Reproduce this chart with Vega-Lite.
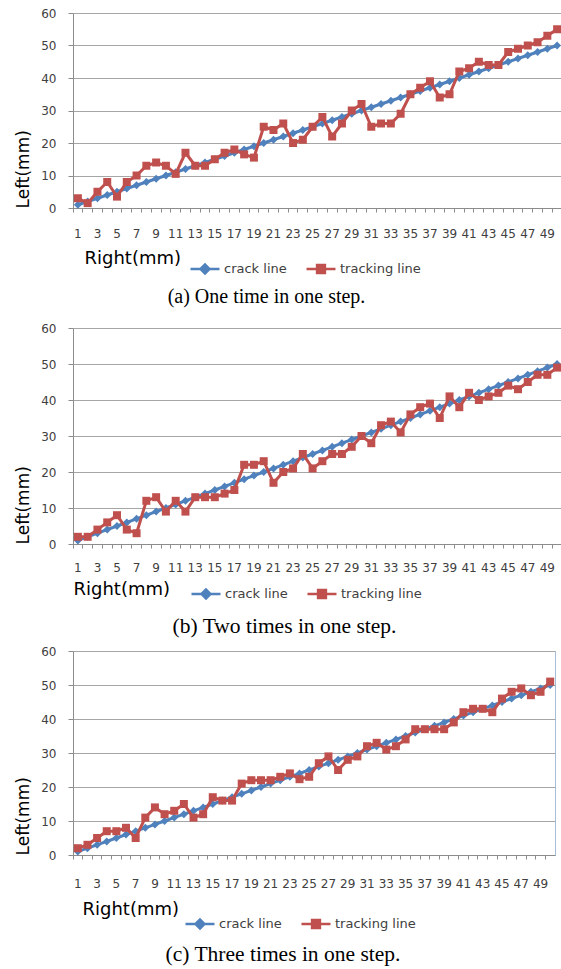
{
  "$schema": "https://vega.github.io/schema/vega-lite/v6.json",
  "background": "white",
  "padding": {"left": 14, "top": 7, "right": 0, "bottom": 3},
  "config": {
    "view": {"stroke": null},
    "font": "DejaVu Sans",
    "axis": {"labelFont": "DejaVu Sans", "titleFont": "DejaVu Sans", "domainColor": "#8C8C8C", "tickColor": "#8C8C8C", "labelColor": "#404040", "titleColor": "#000000", "titleFontWeight": "normal"},
    "title": {"font": "Liberation Serif", "fontWeight": "normal", "color": "#000000"}
  },
  "datasets": {
    "a": [
      {"x":1,"crack line":1,"tracking line":3},{"x":2,"crack line":2,"tracking line":1.5},{"x":3,"crack line":3,"tracking line":5},{"x":4,"crack line":4,"tracking line":8},{"x":5,"crack line":5,"tracking line":3.5},
      {"x":6,"crack line":6,"tracking line":8},{"x":7,"crack line":7,"tracking line":10},{"x":8,"crack line":8,"tracking line":13},{"x":9,"crack line":9,"tracking line":14},{"x":10,"crack line":10,"tracking line":13},
      {"x":11,"crack line":11,"tracking line":10.5},{"x":12,"crack line":12,"tracking line":17},{"x":13,"crack line":13,"tracking line":13},{"x":14,"crack line":14,"tracking line":13},{"x":15,"crack line":15,"tracking line":15},
      {"x":16,"crack line":16,"tracking line":17},{"x":17,"crack line":17,"tracking line":18},{"x":18,"crack line":18,"tracking line":16.5},{"x":19,"crack line":19,"tracking line":15.5},{"x":20,"crack line":20,"tracking line":25},
      {"x":21,"crack line":21,"tracking line":24},{"x":22,"crack line":22,"tracking line":26},{"x":23,"crack line":23,"tracking line":20},{"x":24,"crack line":24,"tracking line":21},{"x":25,"crack line":25,"tracking line":25},
      {"x":26,"crack line":26,"tracking line":28},{"x":27,"crack line":27,"tracking line":22},{"x":28,"crack line":28,"tracking line":26},{"x":29,"crack line":29,"tracking line":30},{"x":30,"crack line":30,"tracking line":32},
      {"x":31,"crack line":31,"tracking line":25},{"x":32,"crack line":32,"tracking line":26},{"x":33,"crack line":33,"tracking line":26},{"x":34,"crack line":34,"tracking line":29},{"x":35,"crack line":35,"tracking line":35},
      {"x":36,"crack line":36,"tracking line":37},{"x":37,"crack line":37,"tracking line":39},{"x":38,"crack line":38,"tracking line":34},{"x":39,"crack line":39,"tracking line":35},{"x":40,"crack line":40,"tracking line":42},
      {"x":41,"crack line":41,"tracking line":43},{"x":42,"crack line":42,"tracking line":45},{"x":43,"crack line":43,"tracking line":44},{"x":44,"crack line":44,"tracking line":44},{"x":45,"crack line":45,"tracking line":48},
      {"x":46,"crack line":46,"tracking line":49},{"x":47,"crack line":47,"tracking line":50},{"x":48,"crack line":48,"tracking line":51},{"x":49,"crack line":49,"tracking line":53},{"x":50,"crack line":50,"tracking line":55}
    ],
    "b": [
      {"x":1,"crack line":1,"tracking line":2},{"x":2,"crack line":2,"tracking line":2},{"x":3,"crack line":3,"tracking line":4},{"x":4,"crack line":4,"tracking line":6},{"x":5,"crack line":5,"tracking line":8},
      {"x":6,"crack line":6,"tracking line":4},{"x":7,"crack line":7,"tracking line":3},{"x":8,"crack line":8,"tracking line":12},{"x":9,"crack line":9,"tracking line":13},{"x":10,"crack line":10,"tracking line":9},
      {"x":11,"crack line":11,"tracking line":12},{"x":12,"crack line":12,"tracking line":9},{"x":13,"crack line":13,"tracking line":13},{"x":14,"crack line":14,"tracking line":13},{"x":15,"crack line":15,"tracking line":13},
      {"x":16,"crack line":16,"tracking line":14},{"x":17,"crack line":17,"tracking line":15},{"x":18,"crack line":18,"tracking line":22},{"x":19,"crack line":19,"tracking line":22},{"x":20,"crack line":20,"tracking line":23},
      {"x":21,"crack line":21,"tracking line":17},{"x":22,"crack line":22,"tracking line":20},{"x":23,"crack line":23,"tracking line":21},{"x":24,"crack line":24,"tracking line":25},{"x":25,"crack line":25,"tracking line":21},
      {"x":26,"crack line":26,"tracking line":23},{"x":27,"crack line":27,"tracking line":25},{"x":28,"crack line":28,"tracking line":25},{"x":29,"crack line":29,"tracking line":27},{"x":30,"crack line":30,"tracking line":30},
      {"x":31,"crack line":31,"tracking line":28},{"x":32,"crack line":32,"tracking line":33},{"x":33,"crack line":33,"tracking line":34},{"x":34,"crack line":34,"tracking line":31},{"x":35,"crack line":35,"tracking line":36},
      {"x":36,"crack line":36,"tracking line":38},{"x":37,"crack line":37,"tracking line":39},{"x":38,"crack line":38,"tracking line":35},{"x":39,"crack line":39,"tracking line":41},{"x":40,"crack line":40,"tracking line":38},
      {"x":41,"crack line":41,"tracking line":42},{"x":42,"crack line":42,"tracking line":40},{"x":43,"crack line":43,"tracking line":41},{"x":44,"crack line":44,"tracking line":42},{"x":45,"crack line":45,"tracking line":44},
      {"x":46,"crack line":46,"tracking line":43},{"x":47,"crack line":47,"tracking line":45},{"x":48,"crack line":48,"tracking line":47},{"x":49,"crack line":49,"tracking line":47},{"x":50,"crack line":50,"tracking line":49}
    ],
    "c": [
      {"x":1,"crack line":1,"tracking line":2},{"x":2,"crack line":2,"tracking line":3},{"x":3,"crack line":3,"tracking line":5},{"x":4,"crack line":4,"tracking line":7},{"x":5,"crack line":5,"tracking line":7},
      {"x":6,"crack line":6,"tracking line":8},{"x":7,"crack line":7,"tracking line":5},{"x":8,"crack line":8,"tracking line":11},{"x":9,"crack line":9,"tracking line":14},{"x":10,"crack line":10,"tracking line":12},
      {"x":11,"crack line":11,"tracking line":13},{"x":12,"crack line":12,"tracking line":15},{"x":13,"crack line":13,"tracking line":11},{"x":14,"crack line":14,"tracking line":12},{"x":15,"crack line":15,"tracking line":17},
      {"x":16,"crack line":16,"tracking line":16},{"x":17,"crack line":17,"tracking line":16},{"x":18,"crack line":18,"tracking line":21},{"x":19,"crack line":19,"tracking line":22},{"x":20,"crack line":20,"tracking line":22},
      {"x":21,"crack line":21,"tracking line":22},{"x":22,"crack line":22,"tracking line":23},{"x":23,"crack line":23,"tracking line":24},{"x":24,"crack line":24,"tracking line":22.3},{"x":25,"crack line":25,"tracking line":23},
      {"x":26,"crack line":26,"tracking line":27},{"x":27,"crack line":27,"tracking line":29},{"x":28,"crack line":28,"tracking line":25},{"x":29,"crack line":29,"tracking line":28},{"x":30,"crack line":30,"tracking line":29},
      {"x":31,"crack line":31,"tracking line":32},{"x":32,"crack line":32,"tracking line":33},{"x":33,"crack line":33,"tracking line":31},{"x":34,"crack line":34,"tracking line":32},{"x":35,"crack line":35,"tracking line":34},
      {"x":36,"crack line":36,"tracking line":37},{"x":37,"crack line":37,"tracking line":37},{"x":38,"crack line":38,"tracking line":37},{"x":39,"crack line":39,"tracking line":37},{"x":40,"crack line":40,"tracking line":39},
      {"x":41,"crack line":41,"tracking line":42},{"x":42,"crack line":42,"tracking line":43},{"x":43,"crack line":43,"tracking line":43},{"x":44,"crack line":44,"tracking line":42},{"x":45,"crack line":45,"tracking line":46},
      {"x":46,"crack line":46,"tracking line":48},{"x":47,"crack line":47,"tracking line":49},{"x":48,"crack line":48,"tracking line":47},{"x":49,"crack line":49,"tracking line":48},{"x":50,"crack line":50,"tracking line":51}
    ]
  },
  "resolve": {"scale": {"x": "independent", "y": "independent", "color": "independent"}, "legend": {"color": "independent"}},
  "spacing": 15,
  "vconcat": [
    {
      "width": 489, "height": 195,
      "data": {"name": "a"},
      "transform": [{"fold": ["crack line", "tracking line"], "as": ["series", "value"]}],
      "title": {"text": "(a) One time in one step.", "orient": "bottom", "fontSize": 20, "anchor": "middle", "dx": -51, "offset": 8},
      "encoding": {
        "x": {"field": "x", "type": "ordinal", "bandPosition": 0.5, "scale": {"type": "band", "paddingInner": 0, "paddingOuter": 0},
          "axis": {"title": "Right(mm)", "titleFontSize": 18, "titleAnchor": "start", "titleAlign": "left", "titleX": 11, "titlePadding": 10,
            "labelFontSize": 12, "labelAngle": 0, "labelPadding": 16, "labelDx": 4.9, "labelOverlap": false, "labelExpr": "datum.value % 2 == 1 ? datum.label : ''",
            "bandPosition": 0, "tickSize": 4, "grid": false}},
        "y": {"field": "value", "type": "quantitative", "scale": {"domain": [0, 60], "nice": false},
          "axis": {"title": "Left(mm)", "titleFontSize": 17, "titleAnchor": "start", "titlePadding": 8, "values": [0,10,20,30,40,50,60],
            "labelFontSize": 12, "labelPadding": 12, "tickSize": 5, "grid": true, "gridColor": "#A6A6A6"}},
        "color": {"field": "series", "type": "nominal", "scale": {"domain": ["crack line", "tracking line"], "range": ["#4F81BD", "#C0504D"]},
          "legend": {"orient": "none", "legendX": 116, "legendY": 240, "direction": "horizontal", "gridAlign": "none", "title": null, "symbolSize": 841, "symbolStrokeWidth": 2.5,
            "labelFont": "DejaVu Sans", "labelFontSize": 13, "labelColor": "#404040", "labelOffset": 3, "columnPadding": 14, "padding": 0,
            "encode": {"symbols": {"update": {
              "shape": {"signal": "datum.value === 'crack line' ? 'M-1,0H1M-0.31,0L0,-0.31L0.31,0L0,0.31Z' : 'M-1,0H1M-0.27,-0.27H0.27V0.27H-0.27Z'"},
              "fill": {"signal": "datum.value === 'crack line' ? '#4F81BD' : '#C0504D'"},
              "stroke": {"signal": "datum.value === 'crack line' ? '#4F81BD' : '#C0504D'"},
              "opacity": {"value": 1}}}}}}
      },
      "layer": [
        {"transform": [{"filter": "datum.series === 'crack line'"}], "mark": {"type": "line", "strokeWidth": 3}},
        {"transform": [{"filter": "datum.series === 'crack line'"}], "mark": {"type": "point", "shape": "diamond", "filled": true, "opacity": 1, "size": 64}},
        {"transform": [{"filter": "datum.series === 'tracking line'"}], "mark": {"type": "line", "strokeWidth": 3}},
        {"transform": [{"filter": "datum.series === 'tracking line'"}], "mark": {"type": "point", "shape": "square", "filled": true, "opacity": 1, "size": 64}}
      ]
    },
    {
      "resolve": {"scale": {"x": "independent", "y": "independent", "color": "independent"}, "legend": {"color": "independent"}},
      "spacing": 6,
      "vconcat": [
        {
          "width": 489, "height": 216,
          "data": {"name": "b"},
          "transform": [{"fold": ["crack line", "tracking line"], "as": ["series", "value"]}],
          "title": {"text": "(b) Two times in one step.", "orient": "bottom", "fontSize": 21.5, "anchor": "middle", "dx": -33, "offset": 12},
          "encoding": {
            "x": {"field": "x", "type": "ordinal", "bandPosition": 0.5, "scale": {"type": "band", "paddingInner": 0, "paddingOuter": 0},
              "axis": {"title": "Right(mm)", "titleFontSize": 18, "titleAnchor": "start", "titleAlign": "left", "titleX": 0, "titlePadding": 7,
                "labelFontSize": 12, "labelAngle": 0, "labelPadding": 14, "labelDx": 4.9, "labelOverlap": false, "labelExpr": "datum.value % 2 == 1 ? datum.label : ''",
                "bandPosition": 0, "tickSize": 4, "grid": false}},
            "y": {"field": "value", "type": "quantitative", "scale": {"domain": [0, 60], "nice": false},
              "axis": {"title": "Left(mm)", "titleFontSize": 17, "titleAnchor": "start", "titlePadding": 8, "values": [0,10,20,30,40,50,60],
                "labelFontSize": 12, "labelPadding": 12, "tickSize": 5, "grid": true, "gridColor": "#A6A6A6"}},
            "color": {"field": "series", "type": "nominal", "scale": {"domain": ["crack line", "tracking line"], "range": ["#4F81BD", "#C0504D"]},
              "legend": {"orient": "none", "legendX": 117, "legendY": 250, "direction": "horizontal", "gridAlign": "none", "title": null, "symbolSize": 841, "symbolStrokeWidth": 2.5,
                "labelFont": "DejaVu Sans", "labelFontSize": 13, "labelColor": "#404040", "labelOffset": 3, "columnPadding": 14, "padding": 0,
                "encode": {"symbols": {"update": {
                  "shape": {"signal": "datum.value === 'crack line' ? 'M-1,0H1M-0.31,0L0,-0.31L0.31,0L0,0.31Z' : 'M-1,0H1M-0.27,-0.27H0.27V0.27H-0.27Z'"},
                  "fill": {"signal": "datum.value === 'crack line' ? '#4F81BD' : '#C0504D'"},
                  "stroke": {"signal": "datum.value === 'crack line' ? '#4F81BD' : '#C0504D'"},
                  "opacity": {"value": 1}}}}}}
          },
          "layer": [
            {"transform": [{"filter": "datum.series === 'crack line'"}], "mark": {"type": "line", "strokeWidth": 3}},
            {"transform": [{"filter": "datum.series === 'crack line'"}], "mark": {"type": "point", "shape": "diamond", "filled": true, "opacity": 1, "size": 64}},
            {"transform": [{"filter": "datum.series === 'tracking line'"}], "mark": {"type": "line", "strokeWidth": 3}},
            {"transform": [{"filter": "datum.series === 'tracking line'"}], "mark": {"type": "point", "shape": "square", "filled": true, "opacity": 1, "size": 64}}
          ]
        },
        {
          "width": 482, "height": 204,
          "view": {"stroke": "#A7BCD6", "strokeWidth": 1},
          "data": {"name": "c"},
          "transform": [{"fold": ["crack line", "tracking line"], "as": ["series", "value"]}],
          "title": {"text": "(c) Three times in one step.", "orient": "bottom", "fontSize": 21.5, "anchor": "middle", "dx": -31, "offset": 10},
          "encoding": {
            "x": {"field": "x", "type": "ordinal", "bandPosition": 0.5, "scale": {"type": "band", "paddingInner": 0, "paddingOuter": 0},
              "axis": {"title": "Right(mm)", "titleFontSize": 18, "titleAnchor": "start", "titleAlign": "left", "titleX": 9, "titlePadding": 11,
                "labelFontSize": 12, "labelAngle": 0, "labelPadding": 19, "labelDx": 4.8, "labelOverlap": false, "labelExpr": "datum.value % 2 == 1 ? datum.label : ''",
                "bandPosition": 0, "tickSize": 4, "grid": false}},
            "y": {"field": "value", "type": "quantitative", "scale": {"domain": [0, 60], "nice": false},
              "axis": {"title": "Left(mm)", "titleFontSize": 17, "titleAnchor": "start", "titlePadding": 8, "values": [0,10,20,30,40,50,60],
                "labelFontSize": 12, "labelPadding": 12, "tickSize": 5, "grid": true, "gridColor": "#A6A6A6"}},
            "color": {"field": "series", "type": "nominal", "scale": {"domain": ["crack line", "tracking line"], "range": ["#4F81BD", "#C0504D"]},
              "legend": {"orient": "none", "legendX": 111, "legendY": 257, "direction": "horizontal", "gridAlign": "none", "title": null, "symbolSize": 841, "symbolStrokeWidth": 2.5,
                "labelFont": "DejaVu Sans", "labelFontSize": 13, "labelColor": "#404040", "labelOffset": 3, "columnPadding": 14, "padding": 0,
                "encode": {"symbols": {"update": {
                  "shape": {"signal": "datum.value === 'crack line' ? 'M-1,0H1M-0.31,0L0,-0.31L0.31,0L0,0.31Z' : 'M-1,0H1M-0.27,-0.27H0.27V0.27H-0.27Z'"},
                  "fill": {"signal": "datum.value === 'crack line' ? '#4F81BD' : '#C0504D'"},
                  "stroke": {"signal": "datum.value === 'crack line' ? '#4F81BD' : '#C0504D'"},
                  "opacity": {"value": 1}}}}}}
          },
          "layer": [
            {"transform": [{"filter": "datum.series === 'crack line'"}], "mark": {"type": "line", "strokeWidth": 3}},
            {"transform": [{"filter": "datum.series === 'crack line'"}], "mark": {"type": "point", "shape": "diamond", "filled": true, "opacity": 1, "size": 64}},
            {"transform": [{"filter": "datum.series === 'tracking line'"}], "mark": {"type": "line", "strokeWidth": 3}},
            {"transform": [{"filter": "datum.series === 'tracking line'"}], "mark": {"type": "point", "shape": "square", "filled": true, "opacity": 1, "size": 64}}
          ]
        }
      ]
    }
  ]
}
